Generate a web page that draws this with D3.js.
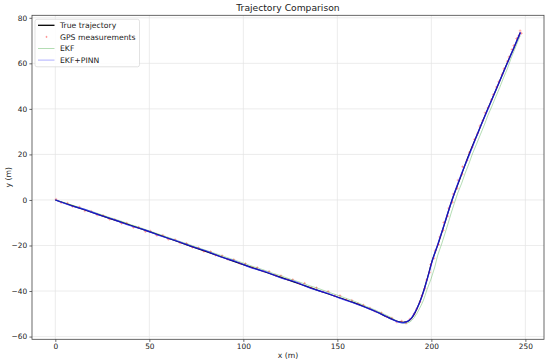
<!DOCTYPE html>
<html>
<head>
<meta charset="utf-8">
<script src="https://cdn.jsdelivr.net/npm/d3@7"></script>
<style>
    body { margin: 0; background: #fff; }
    #chart { width: 550px; height: 364px; }
    text { font-family: "DejaVu Sans", sans-serif; fill: #222; }
</style>
</head>
<body>
<div id="chart"></div>
<script>

// true trajectory
const trueX = [0, 10, 20, 30, 40, 50, 60, 70, 80, 90, 100, 110, 120, 130, 140, 150, 158, 165, 171, 176, 180, 183, 185.5, 187.5, 189.5, 191.5, 193.5, 195.5, 198, 200.5, 203.5, 207, 211, 215.5, 220, 225, 230, 235, 240, 244, 247.3];
const trueY = [0, -2.8, -5.6, -8.4, -11.1, -13.9, -16.8, -19.7, -22.6, -25.5, -28.4, -31.2, -34.0, -36.9, -39.8, -42.6, -44.9, -47.1, -49.2, -51.2, -52.7, -53.5, -53.7, -53.3, -51.9, -49.2, -45.5, -41.0, -34.0, -26.5, -19.5, -10.5, 0, 10, 20, 30, 40, 49.6, 59.5, 67, 73.5];

// noisy gps fixes
const gpsX = [0.4, 3.1, 6.5, 9.2, 12.8, 15.7, 19.1, 22.3, 25.4, 28.9, 31.6, 35.2, 38.0, 41.5, 44.3, 47.9, 50.6, 54.0, 57.2, 60.1,
    63.7, 66.4, 69.8, 72.9, 76.1, 79.0, 82.6, 85.3, 88.7, 91.8, 94.9, 98.2, 101.1, 104.6, 107.4, 110.8, 113.7, 117.1, 120.0, 123.5,
    126.3, 129.7, 132.6, 136.0, 138.9, 142.3, 145.1, 148.6, 151.4, 154.8, 157.7, 161.0, 163.9, 167.3, 170.1, 173.4, 176.2, 179.0, 181.6, 184.2,
    186.5, 188.6, 190.8, 192.1, 194.0, 194.9, 196.6, 197.4, 199.1, 199.6, 201.4, 202.0, 203.9, 204.5, 206.3, 206.6, 208.7, 209.2, 211.3, 211.6,
    213.8, 214.2, 216.4, 216.6, 219.0, 220.2, 221.7, 222.9, 224.5, 225.8, 227.3, 228.6, 230.2, 231.9, 232.9, 234.6, 235.8, 237.6, 238.6, 240.4,
    241.3, 242.9, 243.8, 245.3, 246.5, 247.2, 247.9];
const gpsY = [0.3, -1.2, -1.4, -2.9, -3.1, -4.8, -5.0, -6.6, -6.8, -8.5, -8.6, -10.3, -10.2, -12.1, -12.0, -13.9, -13.7, -15.6, -15.5, -17.3,
    -17.4, -18.9, -19.1, -20.8, -21.0, -22.6, -22.7, -24.3, -24.5, -26.1, -26.2, -27.9, -28.0, -29.6, -29.7, -31.3, -31.4, -33.1, -33.3, -34.9,
    -35.0, -36.7, -36.6, -38.5, -38.6, -40.3, -40.2, -42.1, -42.0, -43.8, -44.1, -45.6, -46.2, -47.5, -48.9, -49.6, -51.3, -51.9, -53.6, -53.2,
    -54.1, -52.3, -50.1, -47.9, -44.8, -42.1, -38.9, -35.2, -31.8, -28.4, -25.6, -22.3, -19.6, -16.2, -13.4, -9.9, -7.1, -3.6, -1.0, 2.6,
    5.1, 8.7, 11.3, 14.6, 17.4, 20.9, 23.2, 26.6, 29.1, 32.5, 34.8, 38.3, 40.6, 44.0, 46.3, 49.6, 51.9, 55.2, 57.6, 60.9,
    62.8, 66.1, 67.8, 70.9, 72.1, 74.3, 73.2];

// plain EKF estimate
const ekfX = [0, 5, 10, 15, 20, 25, 30, 35, 40, 45, 50, 55, 60, 65, 70, 75, 80, 85, 90, 95, 100, 105, 110, 115, 120, 125, 130, 135, 140, 145,
    150, 155, 160, 165, 170, 175, 179, 182.5, 185.5, 188.5, 191, 193.5, 195.8, 197.6, 199.9, 201.8, 203.3, 205.4, 207.2, 208.9, 210.5, 212.2,
    214.0, 216.1, 218.0, 220.0, 221.8, 224.0, 226.0, 228.1, 230.0, 232.1, 234.2, 236.3, 238.3, 240.4, 242.2, 244.0, 245.8, 247.3];
const ekfY = [0, -1.2, -2.5, -3.9, -5.2, -6.6, -8.0, -9.3, -10.8, -12.1, -13.6, -15.0, -16.4, -17.9, -19.2, -20.7, -22.1, -23.5, -24.9, -26.3,
    -27.7, -29.2, -30.5, -32.0, -33.3, -34.8, -36.1, -37.6, -38.9, -40.4, -41.8, -43.3, -44.8, -46.6, -48.3, -50.2, -51.8, -53.5, -54.2, -53.6,
    -51.5, -48, -44, -39.5, -34.5, -29.5, -24.5, -19.5, -14.8, -10.3, -5.8, -1.5, 3, 7.3, 11.8, 16, 20.2, 24.5, 28.6, 32.8,
    37, 41, 45.2, 49.3, 53.5, 57.6, 61.8, 65.5, 69.2, 72.2];

// EKF + PINN estimate
const pinnX = [0, 8, 16, 24, 32, 40, 48, 56, 64, 72, 80, 88, 96, 104, 112, 120, 128, 136, 144, 152, 159, 165, 170.5, 175.5, 179.5, 182.5,
    185, 187.5, 189.5, 191.5, 193.5, 195.6, 198, 200.6, 203.4, 206.9, 210.9, 215.4, 220.1, 225.1, 230.1, 235.1, 240, 244, 247.4];
const pinnY = [0, -2.4, -4.3, -6.8, -8.9, -11.3, -13.3, -15.8, -17.9, -20.3, -22.4, -25.0, -27.1, -29.7, -31.6, -34.2, -36.1, -38.8, -40.8, -43.3,
    -45.3, -47.2, -49.0, -51.0, -52.6, -53.6, -53.9, -53.2, -51.8, -49.0, -45.6, -40.8, -34.2, -26.4, -19.6, -10.6, -0.2, 10.1, 19.8, 30.2,
    40.0, 49.8, 59.3, 67.1, 73.6];

const xTicks = [0, 50, 100, 150, 200, 250];
const yTicks = [-60, -40, -20, 0, 20, 40, 60, 80];
const seriesNames = ["True trajectory", "GPS measurements", "EKF", "EKF+PINN"];

class TrajectoryChart {

    constructor(parentElement) {
        this.parentElement = parentElement;
        this.initVis();
    }

    initVis() {
        let vis = this;

        vis.margin = {top: 15.3, right: 6, bottom: 24.7, left: 32};
        vis.width = 550 - vis.margin.left - vis.margin.right;
        vis.height = 364 - vis.margin.top - vis.margin.bottom;

        vis.root = d3.select("#" + vis.parentElement).append("svg")
            .attr("width", 550)
            .attr("height", 364);

        vis.svg = vis.root.append("g")
            .attr("transform", `translate(${vis.margin.left}, ${vis.margin.top})`);

        vis.x = d3.scaleLinear().domain([-12.4, 259.9]).range([0, vis.width]);
        vis.y = d3.scaleLinear().domain([-61.2, 81.1]).range([vis.height, 0]);

        // grid
        vis.svg.append("g").selectAll("line")
            .data(xTicks).join("line")
            .attr("x1", d => vis.x(d)).attr("x2", d => vis.x(d))
            .attr("y1", 0).attr("y2", vis.height)
            .attr("stroke", "#e4e4e4").attr("stroke-width", 0.7);
        vis.svg.append("g").selectAll("line")
            .data(yTicks).join("line")
            .attr("y1", d => vis.y(d)).attr("y2", d => vis.y(d))
            .attr("x1", 0).attr("x2", vis.width)
            .attr("stroke", "#e4e4e4").attr("stroke-width", 0.7);

        vis.xAxis = d3.axisBottom(vis.x).tickValues(xTicks).tickSize(2.6).tickPadding(2.2)
            .tickFormat(d => d3.format("d")(d).replace("-", "\u2212"));
        vis.yAxis = d3.axisLeft(vis.y).tickValues(yTicks).tickSize(2.6).tickPadding(2.2)
            .tickFormat(d => d3.format("d")(d).replace("-", "\u2212"));

        vis.svg.append("g").attr("class", "x-axis axis")
            .attr("transform", "translate(0," + vis.height + ")").call(vis.xAxis);
        vis.svg.append("g").attr("class", "y-axis axis").call(vis.yAxis);

        vis.svg.selectAll(".axis .domain").remove();
        vis.svg.selectAll(".axis line").attr("stroke", "#444").attr("stroke-width", 0.8);
        vis.svg.selectAll(".axis text").attr("font-size", 7.4).attr("fill", "#222")
            .attr("font-family", "DejaVu Sans");

        vis.line = d3.line()
            .x(d => vis.x(d[0]))
            .y(d => vis.y(d[1]))
            .curve(d3.curveCatmullRom.alpha(0.5));

        vis.plot = vis.svg.append("g");

        vis.updateVis();
    }

    updateVis() {
        let vis = this;

        let truePts = d3.zip(trueX, trueY);
        let gpsPts = d3.zip(gpsX, gpsY);
        let ekfPts = d3.zip(ekfX, ekfY);
        let pinnPts = d3.zip(pinnX, pinnY);

        vis.plot.append("path").datum(truePts)
            .attr("d", vis.line)
            .attr("fill", "none").attr("stroke", "#000").attr("stroke-width", 1.2);

        vis.plot.selectAll(".gps")
            .data(gpsPts).join("path")
            .attr("class", "gps")
            .attr("d", d => {
                let cx = vis.x(d[0]), cy = vis.y(d[1]);
                return `M${cx - 1.4},${cy}H${cx + 1.4}M${cx},${cy - 1.4}V${cy + 1.4}`;
            })
            .attr("stroke", "red").attr("stroke-opacity", 0.4).attr("stroke-width", 0.7);

        vis.plot.append("path").datum(ekfPts)
            .attr("d", vis.line)
            .attr("fill", "none").attr("stroke", "#2ca02c").attr("stroke-opacity", 0.45).attr("stroke-width", 0.8);

        vis.plot.append("path").datum(pinnPts)
            .attr("d", vis.line)
            .attr("fill", "none").attr("stroke", "#1a1aff").attr("stroke-opacity", 0.75).attr("stroke-width", 1.4);

        // frame
        vis.svg.append("rect")
            .attr("width", vis.width).attr("height", vis.height)
            .attr("fill", "none").attr("stroke", "#444").attr("stroke-width", 0.8);

        // legend
        let legend = vis.svg.append("g").attr("transform", "translate(3, 4)");
        legend.append("rect")
            .attr("width", 104.5).attr("height", 47.5).attr("rx", 2)
            .attr("fill", "#fff").attr("fill-opacity", 0.85)
            .attr("stroke", "#d6d6d6").attr("stroke-width", 0.7);

        let rows = legend.selectAll(".entry")
            .data(seriesNames).join("g")
            .attr("class", "entry")
            .attr("transform", (d, i) => `translate(0, ${6 + i * 11.6})`);

        rows.append("text")
            .attr("x", 25).attr("y", 2.7)
            .attr("font-size", 7.7)
            .text(d => d);

        rows.filter((d, i) => i === 0).append("line")
            .attr("x1", 3).attr("x2", 19.5).attr("stroke", "#000").attr("stroke-width", 1.3);
        rows.filter((d, i) => i === 1).append("path")
            .attr("d", "M10.4,0H12.6M11.5,-1.1V1.1")
            .attr("stroke", "red").attr("stroke-opacity", 0.4).attr("stroke-width", 0.7);
        rows.filter((d, i) => i === 2).append("line")
            .attr("x1", 3).attr("x2", 19.5).attr("stroke", "#2ca02c").attr("stroke-opacity", 0.45).attr("stroke-width", 0.8);
        rows.filter((d, i) => i === 3).append("line")
            .attr("x1", 3).attr("x2", 19.5).attr("stroke", "#0000ff").attr("stroke-opacity", 0.4).attr("stroke-width", 0.8);

        // titles
        vis.root.append("text")
            .attr("x", vis.margin.left + vis.width / 2).attr("y", 11.2)
            .attr("text-anchor", "middle").attr("font-size", 9.2)
            .text("Trajectory Comparison");

        vis.root.append("text")
            .attr("x", vis.margin.left + vis.width / 2).attr("y", 358.2)
            .attr("text-anchor", "middle").attr("font-size", 7.7)
            .text("x (m)");

        vis.root.append("text")
            .attr("transform", `translate(10.6, ${vis.margin.top + vis.height / 2}) rotate(-90)`)
            .attr("text-anchor", "middle").attr("font-size", 7.7)
            .text("y (m)");
    }
}

new TrajectoryChart("chart");
</script>
</body>
</html>
